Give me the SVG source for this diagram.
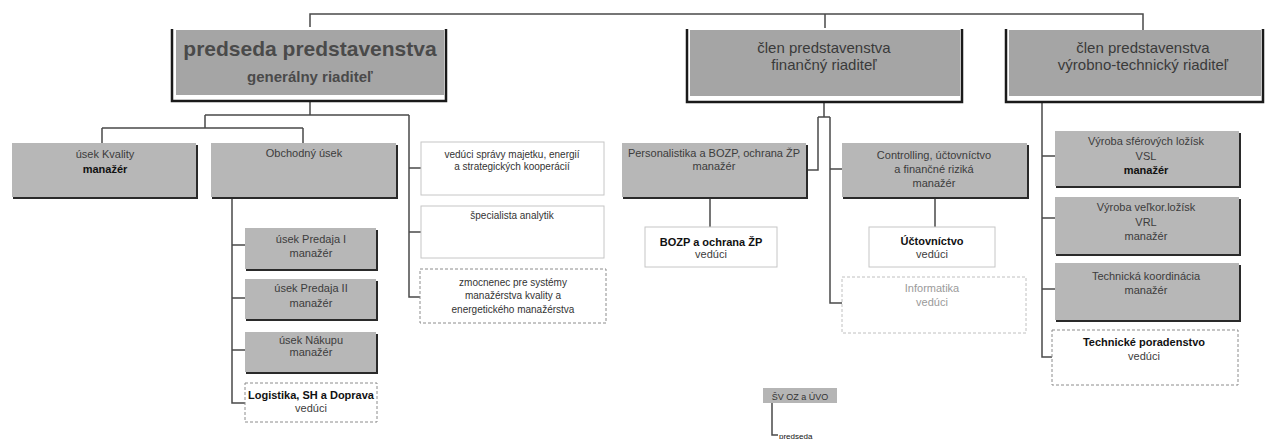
<svg xmlns="http://www.w3.org/2000/svg" width="1269" height="439" viewBox="0 0 1269 439">
<style>
.conn{stroke:#4a4a4a;stroke-width:1.5;fill:none}
.frame{stroke:#1a1a1a;stroke-width:2.5;fill:none}
.dfill{fill:#a5a5a5}
.gfill{fill:#b7b7b7}
.shadow{stroke:#2a2a2a;stroke-width:2;fill:none}
.wbox{fill:#fff;stroke:#c6c6c6;stroke-width:1}
.wdash{fill:#fff;stroke:#8c8c8c;stroke-width:1;stroke-dasharray:3 2}
text{font-family:"Liberation Sans",Arial,sans-serif;text-anchor:middle}
.dt{font-size:15px;fill:#3a3a3a}
.t{font-size:11px;fill:#3c3c3c}
.w{font-size:10px;fill:#333}
.b{font-weight:bold;fill:#111}
.lt{fill:#9a9a9a}
</style>
<g id="connectors">
<path class="conn" d="M310,27 V14 H1143 V30 M825,14 V28"/>
<path class="conn" d="M310,101 V115 M205,115 H409 M205,115 V128 M102,128 H303 M102,128 V143 M303,128 V143"/>
<path class="conn" d="M409,115 V297 H420 M409,168 H421 M409,232 H421"/>
<path class="conn" d="M232,198 V403 H245 M232,245 H245 M232,298 H245 M232,350 H245"/>
<path class="conn" d="M824,102 V117 M818,117 H830 M818,117 V170 H807 M830,117 V303 H842 M830,169 H842"/>
<path class="conn" d="M710,198 V227 M935,198 V227"/>
<path class="conn" d="M1042,102 V357 H1052 M1042,156 H1055 M1042,218 H1055 M1042,289 H1055"/>
<path class="conn" d="M772,403 V435 H778"/>
</g>
<g id="ceo">
<rect class="dfill" x="176" y="30" width="268" height="65"/>
<path class="frame" d="M172,29 V101 H446 V29"/>
<text x="310" y="56" style="font-size:21px;font-weight:bold;fill:#4a4a4a">predseda predstavenstva</text>
<text x="310" y="82" style="font-size:15px;font-weight:bold;fill:#4a4a4a">generálny  riaditeľ</text>
</g>
<g id="cfo">
<rect class="dfill" x="690" y="30" width="270" height="66"/>
<path class="frame" d="M687,29 V102 H962 V29"/>
<text class="dt" x="824" y="53">člen predstavenstva</text>
<text class="dt" x="824" y="70">finančný riaditeľ</text>
</g>
<g id="cto">
<rect class="dfill" x="1009" y="30" width="252" height="66"/>
<path class="frame" d="M1006,29 V102 H1263 V29"/>
<text class="dt" x="1143" y="53">člen predstavenstva</text>
<text class="dt" x="1143" y="70">výrobno-technický riaditeľ</text>
</g>
<g id="kvalita">
<rect class="gfill" x="12" y="143" width="184" height="54"/>
<path class="shadow" d="M197,145 V198 H13"/>
<text class="t" x="105" y="158">úsek Kvality</text>
<text class="t b" x="105" y="173">manažér</text>
</g>
<g id="obchod">
<rect class="gfill" x="211" y="143" width="185" height="54"/>
<path class="shadow" d="M397,145 V198 H212"/>
<text class="t" x="304" y="157">Obchodný  úsek</text>
</g>
<g id="predaj1">
<rect class="gfill" x="245" y="228" width="131" height="41"/>
<path class="shadow" d="M377,230 V270 H246"/>
<text class="t" x="311" y="243">úsek Predaja I</text>
<text class="t" x="311" y="257">manažér</text>
</g>
<g id="predaj2">
<rect class="gfill" x="245" y="279" width="131" height="40"/>
<path class="shadow" d="M377,281 V320 H246"/>
<text class="t" x="311" y="292">úsek Predaja II</text>
<text class="t" x="311" y="307">manažér</text>
</g>
<g id="nakup">
<rect class="gfill" x="245" y="332" width="131" height="40"/>
<path class="shadow" d="M377,334 V373 H246"/>
<text class="t" x="311" y="344">úsek Nákupu</text>
<text class="t" x="311" y="356">manažér</text>
</g>
<g id="logistika">
<rect class="wdash" x="245" y="383" width="132" height="39"/>
<text class="t b" x="311" y="399">Logistika, SH a Doprava</text>
<text class="t" x="311" y="412">vedúci</text>
</g>
<g id="majetok">
<rect class="wbox" x="421" y="142" width="183" height="53"/>
<text class="w" x="512" y="158">vedúci správy majetku, energií</text>
<text class="w" x="512" y="170">a strategických kooperácií</text>
</g>
<g id="analytik">
<rect class="wbox" x="421" y="206" width="183" height="52"/>
<text class="w" x="512" y="219">špecialista analytik</text>
</g>
<g id="zmocnenec">
<rect class="wdash" x="420" y="269" width="186" height="54"/>
<text class="w" x="513" y="286">zmocnenec pre systémy</text>
<text class="w" x="513" y="299">manažérstva kvality a</text>
<text class="w" x="513" y="313">energetického manažérstva</text>
</g>
<g id="personalistika">
<rect class="gfill" x="622" y="143" width="184" height="54"/>
<path class="shadow" d="M807,145 V198 H623"/>
<text class="t" x="714" y="157">Personalistika a BOZP, ochrana ŽP</text>
<text class="t" x="714" y="170">manažér</text>
</g>
<g id="bozp">
<rect class="wbox" x="645" y="227" width="132" height="40"/>
<text class="t b" x="711" y="246">BOZP a ochrana ŽP</text>
<text class="t" x="711" y="258">vedúci</text>
</g>
<g id="controlling">
<rect class="gfill" x="842" y="143" width="185" height="54"/>
<path class="shadow" d="M1028,145 V198 H843"/>
<text class="t" x="934" y="159">Controlling, účtovníctvo</text>
<text class="t" x="934" y="173">a finančné riziká</text>
<text class="t" x="934" y="187">manažér</text>
</g>
<g id="uctovnictvo">
<rect class="wbox" x="869" y="227" width="126" height="40"/>
<text class="t b" x="932" y="245">Účtovníctvo</text>
<text class="t" x="932" y="258">vedúci</text>
</g>
<g id="informatika">
<rect class="wdash" x="842" y="277" width="184" height="56" style="stroke:#c0c0c0"/>
<text class="t lt" x="932" y="292">Informatika</text>
<text class="t lt" x="932" y="306">vedúci</text>
</g>
<g id="vsl">
<rect class="gfill" x="1055" y="131" width="184" height="55"/>
<path class="shadow" d="M1240,133 V187 H1056"/>
<text class="t" x="1146" y="145">Výroba sférových ložísk</text>
<text class="t" x="1146" y="160">VSL</text>
<text class="t b" x="1146" y="174">manažér</text>
</g>
<g id="vrl">
<rect class="gfill" x="1055" y="197" width="184" height="57"/>
<path class="shadow" d="M1240,199 V255 H1056"/>
<text class="t" x="1146" y="211">Výroba veľkor.ložísk</text>
<text class="t" x="1146" y="226">VRL</text>
<text class="t" x="1146" y="240">manažér</text>
</g>
<g id="koordinacia">
<rect class="gfill" x="1055" y="263" width="184" height="57"/>
<path class="shadow" d="M1240,265 V321 H1056"/>
<text class="t" x="1146" y="280">Technická koordinácia</text>
<text class="t" x="1146" y="294">manažér</text>
</g>
<g id="poradenstvo">
<rect class="wdash" x="1052" y="330" width="186" height="55"/>
<text class="t b" x="1144" y="346">Technické poradenstvo</text>
<text class="t" x="1144" y="360">vedúci</text>
</g>
<g id="svoz">
<rect x="763" y="388" width="74" height="15" fill="#b5b5b5"/>
<text x="800" y="400" style="font-size:9px;fill:#333">ŠV OZ a ÚVO</text>
<text x="779" y="439" style="font-size:8px;fill:#111;text-anchor:start">predseda</text>
</g>
</svg>
